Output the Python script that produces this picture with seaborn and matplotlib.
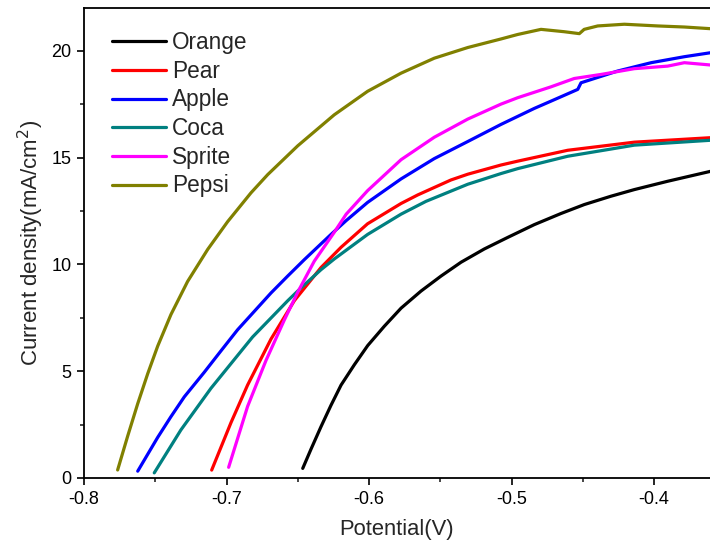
import matplotlib
matplotlib.use("Agg")
from matplotlib import pyplot as plt
from matplotlib.ticker import MultipleLocator
import seaborn as sns
import pandas as pd

# Values: potential (V) vs current density (mA/cm2)
orange_x = [-0.6465, -0.6407, -0.6337, -0.6267, -0.6196, -0.6103, -0.6009, -0.5893, -0.5775, -0.5635, -0.5495,
            -0.5354, -0.5191, -0.5027, -0.484, -0.4653, -0.4489, -0.4302, -0.4138, -0.3904, -0.36]
orange_y = [0.45, 1.35, 2.4, 3.4, 4.35, 5.3, 6.2, 7.1, 7.95, 8.75, 9.45,
            10.1, 10.72, 11.26, 11.86, 12.38, 12.8, 13.19, 13.5, 13.89, 14.36]

pear_x = [-0.7104, -0.6968, -0.6852, -0.6688, -0.6524, -0.6337, -0.6196, -0.601, -0.5775, -0.5658, -0.5425,
          -0.5307, -0.5074, -0.4957, -0.4606, -0.4138, -0.36]
pear_y = [0.37, 2.6, 4.35, 6.5, 8.3, 9.85, 10.8, 11.9, 12.85, 13.25, 13.95,
          14.22, 14.65, 14.83, 15.34, 15.72, 15.93]

apple_x = [-0.7623, -0.7483, -0.739, -0.7296, -0.7156, -0.7039, -0.6922, -0.6805, -0.6688, -0.6571, -0.6454,
           -0.6267, -0.616, -0.601, -0.5775, -0.5542, -0.5307, -0.5074, -0.484, -0.4723, -0.4535, -0.4512,
           -0.4255, -0.402, -0.3787, -0.36]
apple_y = [0.32, 1.9, 2.87, 3.8, 4.95, 5.95, 6.94, 7.8, 8.66, 9.45, 10.22,
           11.4, 12.05, 12.9, 14.0, 14.95, 15.75, 16.55, 17.3, 17.64, 18.19, 18.5,
           19.05, 19.44, 19.72, 19.91]

coca_x = [-0.7507, -0.732, -0.7109, -0.6817, -0.657, -0.6477, -0.6337, -0.6244, -0.601, -0.5775, -0.56,
          -0.5307, -0.5074, -0.4957, -0.4606, -0.4138, -0.36]
coca_y = [0.24, 2.25, 4.2, 6.6, 8.3, 8.9, 9.75, 10.25, 11.4, 12.35, 12.95,
          13.75, 14.25, 14.48, 15.06, 15.58, 15.81]

sprite_x = [-0.6985, -0.6852, -0.6723, -0.6594, -0.65, -0.6384, -0.6244, -0.616, -0.601, -0.5775, -0.5542,
            -0.5307, -0.5074, -0.4957, -0.4723, -0.456, -0.4372, -0.4138, -0.3904, -0.3787, -0.36]
sprite_y = [0.5, 3.35, 5.5, 7.4, 8.7, 10.15, 11.5, 12.35, 13.45, 14.9, 15.95,
            16.8, 17.5, 17.8, 18.31, 18.7, 18.89, 19.16, 19.28, 19.44, 19.33]

pepsi_x = [-0.7764, -0.7694, -0.7623, -0.7553, -0.7483, -0.739, -0.7273, -0.7132, -0.6992, -0.6828, -0.6711,
           -0.65, -0.6244, -0.601, -0.5775, -0.5542, -0.5307, -0.5074, -0.4957, -0.4793, -0.463, -0.4524,
           -0.449, -0.4395, -0.4208, -0.3974, -0.3787, -0.36]
pepsi_y = [0.375, 1.95, 3.48, 4.88, 6.17, 7.65, 9.2, 10.7, 12.0, 13.35, 14.2,
           15.55, 17.0, 18.1, 18.95, 19.65, 20.15, 20.55, 20.76, 21.0, 20.89, 20.8,
           21.0, 21.16, 21.24, 21.16, 21.11, 21.03]

names = ["Orange", "Pear", "Apple", "Coca", "Sprite", "Pepsi"]
colors = ["#000000", "#ff0000", "#0000ff", "#008080", "#ff00ff", "#808000"]
series = [(orange_x, orange_y), (pear_x, pear_y), (apple_x, apple_y),
          (coca_x, coca_y), (sprite_x, sprite_y), (pepsi_x, pepsi_y)]

frames = []
for name, (xs, ys) in zip(names, series):
    frames.append(pd.DataFrame({"potential": xs, "current": ys, "sample": name}))
df = pd.concat(frames, ignore_index=True)

sns.set_style("white")
plt.rcParams["font.family"] = ["Liberation Sans", "DejaVu Sans"]

fig = plt.figure(figsize=(7.10, 5.49), dpi=100)
ax = fig.add_axes([84 / 710, 71 / 549, (710 - 84) / 710, (478 - 8) / 549])

sns.lineplot(data=df, x="potential", y="current", hue="sample", hue_order=names,
             palette=dict(zip(names, colors)), sort=False, estimator=None,
             linewidth=2.3, ax=ax)

ax.set_xlim(-0.8, -0.8 + (710 - 84) / 1425)
ax.set_ylim(0, 22)
ax.set_xticks([-0.8, -0.7, -0.6, -0.5, -0.4])
ax.set_xticklabels(["-0.8", "-0.7", "-0.6", "-0.5", "-0.4"])
ax.xaxis.set_minor_locator(MultipleLocator(0.05))
ax.yaxis.set_major_locator(MultipleLocator(5))
ax.yaxis.set_minor_locator(MultipleLocator(2.5))
ax.tick_params(which="major", direction="out", length=5, width=1.2, labelsize=13,
               bottom=True, left=True, colors="black", pad=4)
ax.tick_params(which="minor", direction="out", length=3, width=1.2, bottom=True, left=True)

for side in ["left", "bottom", "top"]:
    ax.spines[side].set_linewidth(1.3)
    ax.spines[side].set_color("black")
ax.spines["right"].set_visible(False)

ax.set_xlabel("Potential(V)", fontsize=15.8, labelpad=8)
ax.set_ylabel("Current density(mA/cm$^2$)", fontsize=16, labelpad=4)

leg = ax.legend(loc="upper left", frameon=False, fontsize=16.3, handlelength=2.35,
                handletextpad=0.27, labelspacing=0.25, borderaxespad=0,
                borderpad=0.4, bbox_to_anchor=(0.031, 0.970))
for line in leg.get_lines():
    line.set_linewidth(2.3)

fig.savefig("out.png", dpi=100)
